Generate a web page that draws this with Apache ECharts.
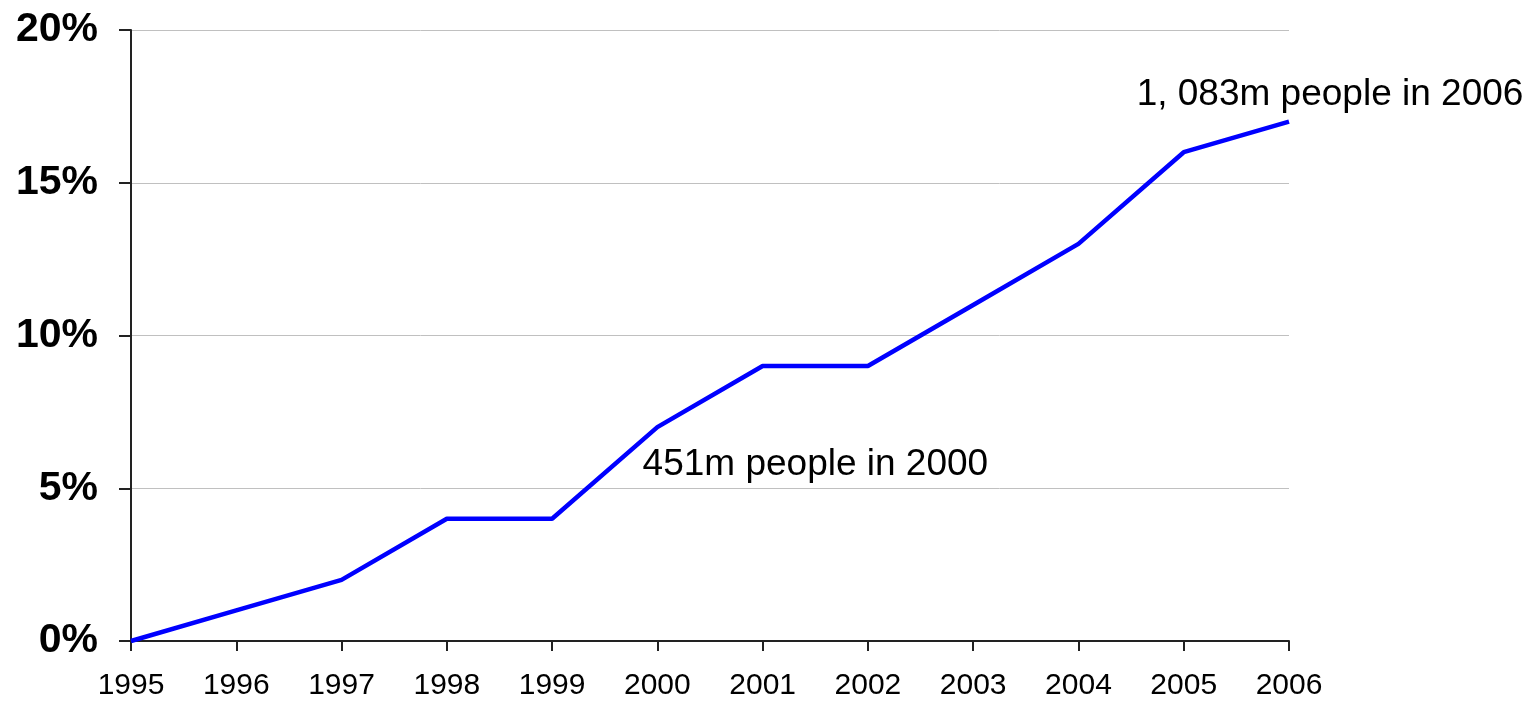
<!DOCTYPE html>
<html>
<head>
<meta charset="utf-8">
<script src="https://cdn.jsdelivr.net/npm/echarts@6/dist/echarts.min.js"></script>
<style>
html,body{margin:0;padding:0;background:#fff;}
#chart{width:1537px;height:702px;}
</style>
</head>
<body>
<div id="chart"></div>
<script>
var years = ['1995','1996','1997','1998','1999','2000','2001','2002','2003','2004','2005','2006'];
var sharePct = [0, 1, 2, 4, 4, 7, 9, 9, 11, 13, 16, 17];
var yTicks = [0, 5, 10, 15, 20];
var notes = [
  { year: '2000', value: 7, text: '451m people in 2000' },
  { year: '2006', value: 17, text: '1, 083m people in 2006' }
];

var chart = echarts.init(document.getElementById('chart'), null, {renderer: 'canvas'});
var font = 'Arial, "Liberation Sans", sans-serif';
var noteOffsets = [[158, 38], [41, -27]];

chart.setOption({
  animation: false,
  backgroundColor: '#ffffff',
  grid: { left: 131, right: 248, top: 30, bottom: 61, containLabel: false },
  xAxis: {
    type: 'category',
    data: years,
    boundaryGap: false,
    axisLine: { show: true, lineStyle: { color: '#222', width: 2 } },
    axisTick: { show: true, alignWithLabel: true, length: 10, lineStyle: { color: '#222', width: 2 } },
    axisLabel: { color: '#000', fontFamily: font, fontSize: 30, margin: 30 },
    splitLine: { show: false }
  },
  yAxis: {
    type: 'value',
    min: yTicks[0],
    max: yTicks[yTicks.length - 1],
    interval: 5,
    axisLine: { show: true, lineStyle: { color: '#222', width: 2 } },
    axisTick: { show: true, length: 12, lineStyle: { color: '#222', width: 2 } },
    axisLabel: { color: '#000', fontFamily: font, fontSize: 41, fontWeight: 'bold', margin: 33, formatter: '{value}%' },
    splitLine: { show: true, lineStyle: { color: '#c0c0c0', width: 1 } }
  },
  series: [{
    type: 'line',
    data: sharePct,
    symbol: 'none',
    lineStyle: { color: '#0000ff', width: 4.5 },
    markPoint: {
      symbol: 'circle',
      symbolSize: 0,
      silent: true,
      data: notes.map(function (n, i) {
        return {
          coord: [n.year, n.value],
          label: {
            show: true,
            formatter: n.text,
            position: 'inside',
            offset: noteOffsets[i],
            color: '#000',
            fontFamily: font,
            fontSize: 37
          }
        };
      })
    }
  }]
});
</script>
</body>
</html>
